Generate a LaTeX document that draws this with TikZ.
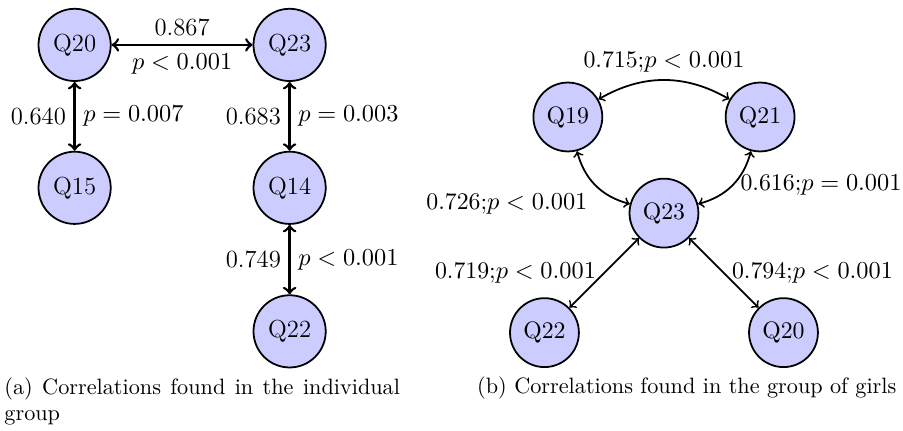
\documentclass[tikz,border=0pt]{standalone}
\usetikzlibrary{positioning}
\tikzset{
	qnode/.style={circle, draw=black, thick, fill=blue!20, minimum size=31pt, inner sep=0pt},
	bigqnode/.style={qnode, minimum size=32.5pt},
	corr/.style={<->, very thick},
	softcorr/.style={<->, thick},
	capt/.style={inner sep=0pt},
}
\begin{document}
\begin{tikzpicture}[on grid]
		\useasboundingbox (0,0) rectangle (14.28,6.80);
		% individual group
		\begin{scope}[font=\fontsize{11.1}{13}\selectfont]
		\node[bigqnode] (a20) at (1.18,6.09) {Q20};
		\node[bigqnode, right=3.40cm of a20] (a23) {Q23};
		\node[bigqnode, below=2.26cm of a20] (a15) {Q15};
		\node[bigqnode, below=2.26cm of a23] (a14) {Q14};
		\node[bigqnode, below=2.27cm of a14] (a22) {Q22};
		\draw[corr] (a20) -- node[above] {0.867} node[below] {$p<0.001$} (a23);
		\draw[corr] (a20) -- node[left] {0.640} node[right] {$p=0.007$} (a15);
		\draw[corr] (a23) -- node[left] {0.683} node[right] {$p=0.003$} (a14);
		\draw[corr] (a14) -- node[left] {0.749} node[right] {$p<0.001$} (a22);
		\end{scope}
		% group of girls
		\begin{scope}[font=\fontsize{10.7}{12.5}\selectfont]
		\node[qnode] (b23) at (10.50,3.43) {Q23};
		\node[qnode, above left=1.52cm and 1.52cm of b23] (b19) {Q19};
		\node[qnode, above right=1.52cm and 1.52cm of b23] (b21) {Q21};
		\node[qnode, below left=1.89cm and 1.89cm of b23] (b22) {Q22};
		\node[qnode, below right=1.89cm and 1.89cm of b23] (b20) {Q20};
		\draw[softcorr] (b19) to[bend left=30] node[above] {0.715;$p<0.001$} (b21);
		\draw[softcorr] (b19) to[bend right=30] node[below left] {0.726;$p<0.001$} (b23);
		\draw[softcorr] (b21) to[bend left=30] node[right] {0.616;$p=0.001$} (b23);
		\draw[softcorr] (b23) -- node[left] {0.719;$p<0.001$} (b22);
		\draw[softcorr] (b23) -- node[right] {0.794;$p<0.001$} (b20);
		\end{scope}
		% captions
		\node[capt, anchor=north west, text width=178pt, align=justify] (capa) at (0.063,0.84) {(a) Correlations found in the individual group};
		\node[capt, anchor=base west] (capb) at (7.54,0.57) {(b) Correlations found in the group of girls};
	\end{tikzpicture}
\end{document}
